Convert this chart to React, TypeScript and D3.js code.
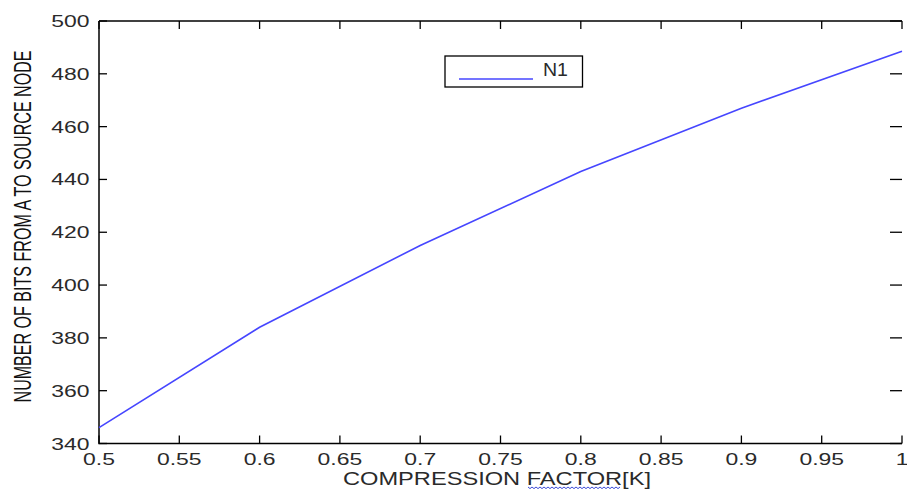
import React from "react";
import * as d3 from "d3";

// Compression factor K on the x axis, bits received from A at the source node on y
const compressionFactor = [0.5, 0.6, 0.7, 0.8, 0.9, 1.0];
const bitsN1 = [346, 384, 415, 443, 467, 488.5];

const xTickValues = [0.5, 0.55, 0.6, 0.65, 0.7, 0.75, 0.8, 0.85, 0.9, 0.95, 1];
const xTickLabels = ["0.5", "0.55", "0.6", "0.65", "0.7", "0.75", "0.8", "0.85", "0.9", "0.95", "1"];
const yTickValues = [340, 360, 380, 400, 420, 440, 460, 480, 500];
const yTickLabels = ["340", "360", "380", "400", "420", "440", "460", "480", "500"];

const seriesName = "N1";
const xTitle = "COMPRESSION FACTOR[K]";
const yTitle = "NUMBER OF BITS FROM A TO SOURCE NODE";

const W = 907;
const H = 491;
const left = 99;
const right = 902;
const top = 21;
const bottom = 443.5;
const font = "'Liberation Sans', Arial, Helvetica, sans-serif";
const textColor = "#2a2a2a";
const lineColor = "#4646ff";
const sx = 1.35;

const x = d3.scaleLinear().domain([0.5, 1]).range([left, right]);
const y = d3.scaleLinear().domain([340, 500]).range([bottom, top]);

function WideText(props: { x: number; y: number; anchor: string; size: number; children: string }) {
  return (
    <text
      transform={`translate(${props.x},${props.y}) scale(${sx},1)`}
      textAnchor={props.anchor}
      fontSize={props.size}
      fontFamily={font}
      fill={textColor}
    >
      {props.children}
    </text>
  );
}

export default function App() {
  const line = d3
    .line<number>()
    .x((_, i) => x(compressionFactor[i]))
    .y((d) => y(d));

  const tick = 8;

  // spell-check style squiggle under part of the x title
  const squiggle: [number, number][] = [];
  for (let px = 528, k = 0; px <= 621; px += 2, k++) {
    squiggle.push([px, 487 + (k % 2 === 0 ? 0 : 1.6)]);
  }

  return (
    <svg
      width={W}
      height={H}
      style={{ position: "absolute", left: 0, top: 0, background: "#fff" }}
    >
      <rect x={0} y={0} width={W} height={H} fill="#fff" />

      {/* axes frame: left, bottom and top */}
      <path
        d={`M${left},${top}V${bottom}H${right}`}
        fill="none"
        stroke="#000"
        strokeWidth={1.5}
      />
      <line x1={left} x2={right} y1={top} y2={top} stroke="#000" strokeWidth={1.5} />

      {/* x ticks, bottom and top */}
      {xTickValues.map((v) => (
        <g key={"xt" + v}>
          <line x1={x(v)} x2={x(v)} y1={bottom} y2={bottom - tick} stroke="#000" strokeWidth={1.3} />
          <line x1={x(v)} x2={x(v)} y1={top} y2={top + tick} stroke="#000" strokeWidth={1.3} />
        </g>
      ))}
      {/* y ticks, left and right */}
      {yTickValues.map((v) => (
        <g key={"yt" + v}>
          <line x1={left} x2={left + tick} y1={y(v)} y2={y(v)} stroke="#000" strokeWidth={1.3} />
          <line x1={right} x2={right - tick - 4} y1={y(v)} y2={y(v)} stroke="#000" strokeWidth={1.3} />
        </g>
      ))}

      {xTickValues.map((v, i) => (
        <WideText key={"xl" + v} x={x(v)} y={464.5} anchor="middle" size={17}>
          {xTickLabels[i]}
        </WideText>
      ))}
      {yTickValues.map((v, i) => (
        <WideText key={"yl" + v} x={89.5} y={y(v) + 6} anchor="end" size={17}>
          {yTickLabels[i]}
        </WideText>
      ))}

      <path d={line(bitsN1) ?? ""} fill="none" stroke={lineColor} strokeWidth={1.6} />

      {/* legend */}
      <rect x={445} y={56} width={137.5} height={31} fill="#fff" stroke="#000" strokeWidth={1.3} />
      <line x1={459} x2={533} y1={79} y2={79} stroke={lineColor} strokeWidth={1.6} />
      <text x={543} y={76} fontSize={18} fontFamily={font} fill={textColor} textLength={25} lengthAdjust="spacingAndGlyphs">
        {seriesName}
      </text>

      {/* axis titles */}
      <text
        x={343}
        y={485}
        fontSize={19}
        fontFamily={font}
        fill={textColor}
        textLength={308}
        lengthAdjust="spacingAndGlyphs"
      >
        {xTitle}
      </text>
      <path
        d={d3.line()(squiggle) ?? ""}
        fill="none"
        stroke="#3b4bd8"
        strokeWidth={1}
      />
      <text
        transform="translate(31,226.5) rotate(-90) scale(0.67,1)"
        textAnchor="middle"
        fontSize={24}
        fontFamily={font}
        fill="#111"
      >
        {yTitle}
      </text>
    </svg>
  );
}
